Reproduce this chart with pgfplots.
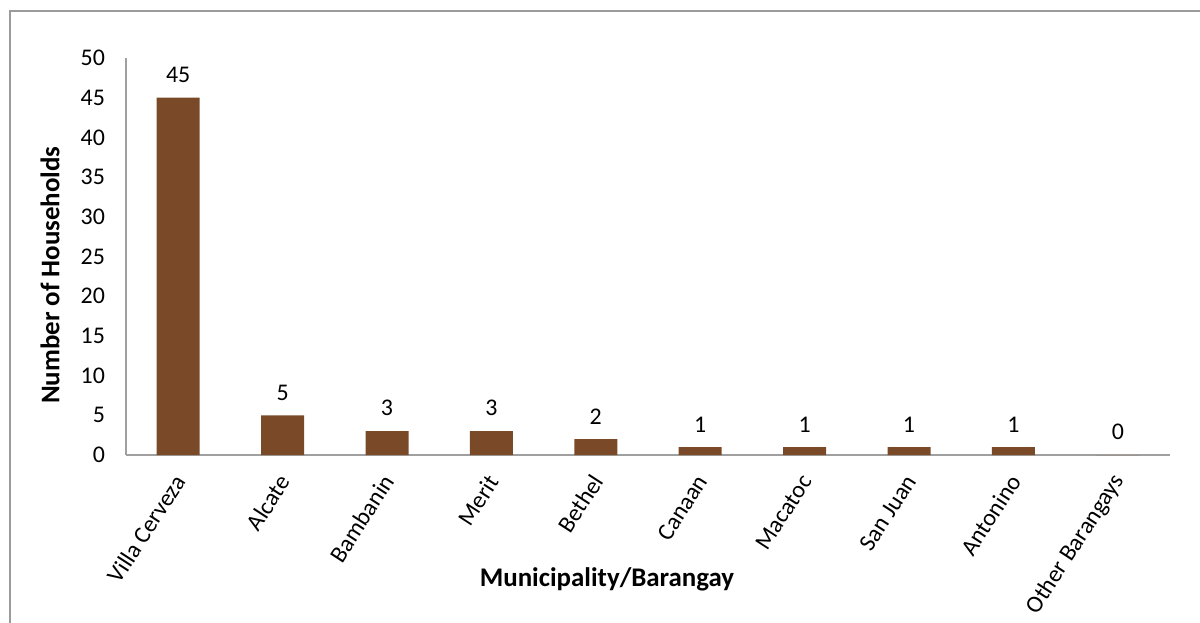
\documentclass[border=0pt]{standalone}
\usepackage{fontspec}
\setmainfont{Carlito}
\usepackage{pgfplots}
\pgfplotsset{compat=1.18}
\pgfkeys{/pgf/number format/assume math mode=true}
\definecolor{barbrown}{RGB}{122,74,40}
\definecolor{axgray}{RGB}{160,160,160}
\definecolor{framegray}{RGB}{155,155,155}
\begin{document}
\begin{tikzpicture}
\useasboundingbox (0,0) rectangle (600bp,311.5bp);
\draw[color=framegray, line width=0.8bp] (5bp,0) -- (5bp,306bp) -- (600bp,306bp);
\begin{axis}[
  at={(63bp,84bp)}, anchor=south west,
  scale only axis, width=522bp, height=198.5bp,
  xmin=-0.5, xmax=9.5, ymin=0, ymax=50,
  ytick={0,5,...,50},
  xtick={0,...,9},
  xticklabels={Villa Cerveza,Alcate,Bambanin,Merit,Bethel,Canaan,Macatoc,San Juan,Antonino,Other Barangays},
  axis x line=bottom, axis y line=left,
  axis line style={-, color=axgray, line width=0.8bp},
  major tick length=0pt,
  /pgf/number format/assume math mode=true,
  tick label style={font=\fontsize{12}{14}\selectfont, color=black},
  yticklabel style={xshift=-7bp},
  xticklabel style={xshift=1bp, yshift=-11bp, rotate=57, anchor=east, inner sep=0pt},
  ylabel={Number of Households},
  xlabel={Municipality/Barangay},
  label style={font=\fontsize{13.5}{15}\selectfont\bfseries},
  ylabel style={at={(axis description cs:-0.0728,0.453)}, anchor=center},
  xlabel style={at={(axis description cs:0.4607,-0.312)}, anchor=center},
  ybar, bar width=21.5bp, bar shift=0pt,
  nodes near coords,
  nodes near coords style={font=\fontsize{12}{14}\selectfont, color=black, yshift=4bp},
  clip=false,
]
\addplot[fill=barbrown, draw=none] coordinates {
  (0,45) (1,5) (2,3) (3,3) (4,2) (5,1) (6,1) (7,1) (8,1) (9,0)
};
\end{axis}
\end{tikzpicture}
\end{document}
